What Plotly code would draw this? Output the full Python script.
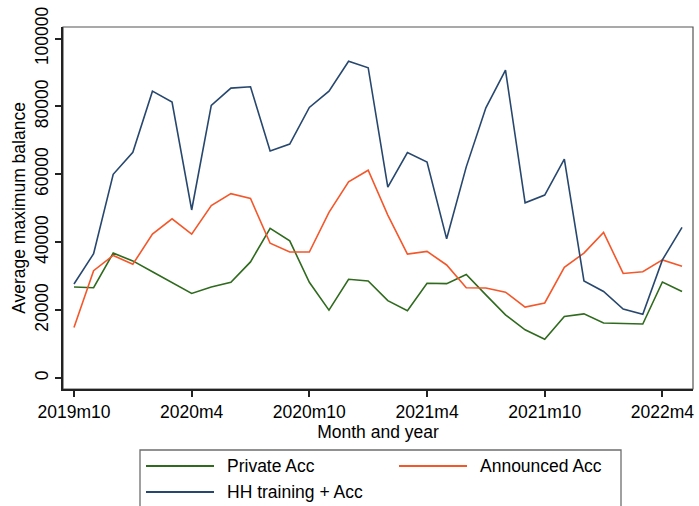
import plotly.graph_objects as go

months = list(range(32))  # 2019m10 .. 2022m5
tick_vals = [0, 6, 12, 18, 24, 30]
tick_text = ["2019m10", "2020m4", "2020m10", "2021m4", "2021m10", "2022m4"]

private_acc = [26.8, 26.6, 36.8, 34.5, 31.3, 28.1, 24.9, 26.8, 28.2, 34.2, 44.1, 40.4,
               28.2, 20.0, 29.1, 28.6, 22.8, 19.8, 27.9, 27.8, 30.5, 24.5, 18.6, 14.2,
               11.4, 18.1, 18.9, 16.2, 16.1, 15.9, 28.3, 25.5]
announced_acc = [14.9, 31.6, 36.1, 33.5, 42.4, 46.9, 42.4, 50.8, 54.3, 52.9, 39.7, 37.1,
                 37.1, 48.8, 57.8, 61.2, 48.0, 36.5, 37.3, 33.3, 26.6, 26.5, 25.3, 20.9,
                 22.1, 32.6, 36.8, 42.9, 30.8, 31.3, 34.8, 32.9]
hh_training_acc = [27.7, 36.6, 60.0, 66.5, 84.5, 81.3, 49.5, 80.3, 85.4, 85.8, 66.9, 68.9,
                   79.7, 84.5, 93.3, 91.4, 56.2, 66.4, 63.6, 41.0, 62.2, 79.6, 90.7, 51.6,
                   53.9, 64.5, 28.6, 25.5, 20.3, 18.8, 34.8, 44.4]

series_names = ["Private Acc", "Announced Acc", "HH training + Acc"]
series_values = [private_acc, announced_acc, hh_training_acc]
series_colors = ["#2f6a1e", "#f4572a", "#27476e"]

W, H = 699, 506
ML, MR, MT, MB = 63, 6, 27, 117
PW, PH = W - ML - MR, H - MT - MB


def px(x):
    return (x - ML) / PW


def py(y):
    return (H - MB - y) / PH


fig = go.Figure()
for name, vals, color in zip(series_names, series_values, series_colors):
    fig.add_trace(go.Scatter(
        x=months, y=[v * 1000 for v in vals], mode="lines", name=name,
        line=dict(color=color, width=1.6), showlegend=False,
    ))

font_family = "Liberation Sans, Arial, sans-serif"
fs = 17.5

# manual legend (Stata-style box with long line keys)
legend_pos = [(146, 466), (399, 466), (146, 492)]
shapes = [dict(type="rect", xref="paper", yref="paper", x0=0, x1=1, y0=0, y1=1,
               line=dict(color="#555555", width=1.2), fillcolor="rgba(0,0,0,0)", layer="below"),
          dict(type="rect", xref="paper", yref="paper", x0=px(140), x1=px(621),
               y0=py(530), y1=py(450), line=dict(color="#6e6e6e", width=1.3),
               fillcolor="rgba(0,0,0,0)")]
annotations = []
for (lx, ly), name, color in zip(legend_pos, series_names, series_colors):
    shapes.append(dict(type="line", xref="paper", yref="paper", x0=px(lx), x1=px(lx + 68),
                       y0=py(ly), y1=py(ly), line=dict(color=color, width=2)))
    annotations.append(dict(text=name, xref="paper", yref="paper", x=px(lx + 79), y=py(ly),
                            xanchor="left", yanchor="middle", showarrow=False,
                            font=dict(size=fs, color="black")))

fig.update_layout(
    width=W, height=H,
    margin=dict(l=ML, r=MR, t=MT, b=MB),
    paper_bgcolor="white", plot_bgcolor="white",
    font=dict(family=font_family, size=fs, color="black"),
    showlegend=False,
    xaxis=dict(
        range=[-0.56, 31.56], tickmode="array", tickvals=tick_vals, ticktext=tick_text,
        showgrid=False, zeroline=False, showline=True, linecolor="#222222", linewidth=2,
        ticks="outside", ticklen=6, tickwidth=1.5, tickcolor="#222222",
        tickfont=dict(size=fs), automargin=False,
        title=dict(text="Month and year", font=dict(size=fs), standoff=2),
    ),
    yaxis=dict(
        range=[-3235, 103400], tickmode="array",
        tickvals=[0, 20000, 40000, 60000, 80000, 100000],
        ticktext=["0", "20000", "40000", "60000", "80000", "100000"],
        tickangle=-90, automargin=False,
        showgrid=False, zeroline=False, showline=True, linecolor="#222222", linewidth=2,
        ticks="outside", ticklen=6, tickwidth=1.5, tickcolor="#222222",
        tickfont=dict(size=fs),
        title=dict(text="Average maximum balance", font=dict(size=fs), standoff=2),
    ),
    shapes=shapes,
    annotations=annotations,
)

fig.write_html("out.html", config={"displayModeBar": False},
               post_script="document.body.style.margin='0';")
